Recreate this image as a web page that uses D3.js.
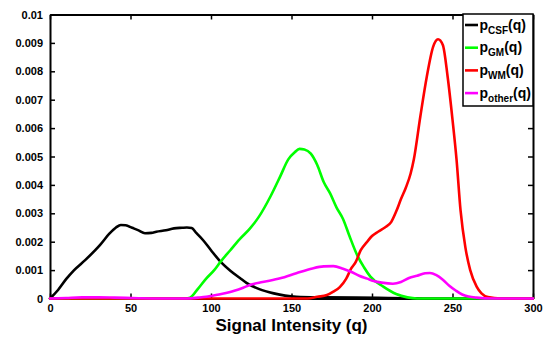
<!DOCTYPE html>
<html>
<head>
<meta charset="utf-8">
<script src="https://cdn.jsdelivr.net/npm/d3@7"></script>
<style>
  html, body { margin: 0; padding: 0; background: #fff; }
  svg { display: block; font-family: "Liberation Sans", Arial, Helvetica, sans-serif; font-weight: bold; }
</style>
</head>
<body>
<svg id="chart" width="557" height="337"></svg>
<script>
// ---- data ----
const xTicks = [0, 50, 100, 150, 200, 250, 300];
const yTicks = [0, 0.001, 0.002, 0.003, 0.004, 0.005, 0.006, 0.007, 0.008, 0.009, 0.01];
const yTickLabels = ["0", "0.001", "0.002", "0.003", "0.004", "0.005", "0.006", "0.007", "0.008", "0.009", "0.01"];
const xLabel = "Signal Intensity (q)";

const csfQ = [0, 5, 10, 15, 22, 31, 37, 41, 44, 47, 51, 55, 59, 63, 66, 72, 77, 82, 85, 88, 91, 95, 100, 106, 112, 118, 122, 130, 139, 146, 153, 170, 190, 210, 222, 232, 300];
const csfV = [0, 0.0003, 0.00068, 0.001, 0.00136, 0.00188, 0.00229, 0.0025, 0.00259, 0.00258, 0.00249, 0.0024, 0.0023, 0.00231, 0.00235, 0.0024, 0.00247, 0.00249, 0.0025, 0.00248, 0.0023, 0.00206, 0.0017, 0.00129, 0.00098, 0.00072, 0.00055, 0.00033, 0.00018, 0.0001, 0.00006, 0.00004, 0.00003, 0.00002, 0.00001, 0, 0];

const gmQ = [0, 84, 87, 92, 97, 102, 106, 112, 118, 124, 130, 137, 143, 148, 152, 155, 158, 162, 166, 170, 174, 178, 182, 186, 191, 195, 199, 207, 215, 222, 228, 300];
const gmV = [0, 0, 0.00003, 0.00035, 0.0007, 0.001, 0.0013, 0.0017, 0.0021, 0.00245, 0.0029, 0.0036, 0.0043, 0.0049, 0.00515, 0.00527, 0.00525, 0.0051, 0.0047, 0.0041, 0.0037, 0.0032, 0.0028, 0.0022, 0.0015, 0.0011, 0.00077, 0.00042, 0.00016, 0.00004, 0, 0];

const wmQ = [0, 160, 166, 172, 176, 180, 184, 187, 190, 193, 197, 200, 204, 208, 212, 215, 218, 221, 224, 226, 230, 234, 238, 241, 244, 247, 250, 252.5, 255, 258, 261, 265, 268, 272, 280, 300];
const wmV = [0, 0, 0.00006, 0.00012, 0.00024, 0.0004, 0.0007, 0.00105, 0.0013, 0.0017, 0.002, 0.0022, 0.00236, 0.0025, 0.0027, 0.00306, 0.0035, 0.0039, 0.0044, 0.0049, 0.0064, 0.0078, 0.00887, 0.00913, 0.00893, 0.0078, 0.0063, 0.0049, 0.0031, 0.0018, 0.001, 0.00042, 0.00018, 0.00005, 0, 0];

const otherQ = [0, 10, 20, 30, 40, 55, 70, 85, 92, 97, 101, 105, 110, 115, 120, 125, 132, 143, 153, 163, 170, 176, 182, 187, 192, 197, 201, 206, 213, 218, 223, 228, 233, 236, 240, 244, 248, 252, 256, 260, 265, 275, 300];
const otherV = [0, 0.00002, 0.00004, 0.00004, 0.00003, 0.00001, 0, 0, 0.00003, 0.00006, 0.0001, 0.00014, 0.0002, 0.00028, 0.00038, 0.00049, 0.00058, 0.00071, 0.00089, 0.00106, 0.00113, 0.00114, 0.00105, 0.00094, 0.0008, 0.0007, 0.00062, 0.00056, 0.00052, 0.00058, 0.00072, 0.0008, 0.00089, 0.0009, 0.00082, 0.00066, 0.00045, 0.00028, 0.00014, 0.00007, 0.00003, 0, 0];

const seriesNames = ["CSF", "GM", "WM", "other"];
const seriesColors = ["#000000", "#00ff00", "#ff0000", "#ff00ff"];

// ---- layout ----
const svg = d3.select("#chart");
const pLeft = 50, pRight = 533, pTop = 14.5, pBottom = 298.5;
const x = d3.scaleLinear().domain([0, 300]).range([pLeft, pRight]);
const y = d3.scaleLinear().domain([0, 0.01]).range([pBottom, pTop]);

const tickLen = 5;
const g = svg.append("g");
const styleAxis = s => {
  s.select(".domain").attr("stroke-width", 2).attr("stroke", "#000");
  s.selectAll(".tick line").attr("stroke-width", 1.5).attr("stroke", "#000");
  s.selectAll("text").attr("font-size", 11).attr("font-weight", "bold")
    .attr("font-family", "Liberation Sans, Arial, sans-serif").attr("fill", "#000");
};

// bottom axis (ticks inward)
g.append("g").attr("transform", `translate(0,${pBottom})`)
  .call(d3.axisBottom(x).tickValues(xTicks).tickSizeInner(-tickLen).tickSizeOuter(0).tickPadding(6).tickFormat(d3.format("d")))
  .call(styleAxis);
// top axis
g.append("g").attr("transform", `translate(0,${pTop})`)
  .call(d3.axisTop(x).tickValues(xTicks).tickSizeInner(-tickLen).tickSizeOuter(0).tickFormat(""))
  .call(styleAxis);
// left axis
g.append("g").attr("transform", `translate(${pLeft},0)`)
  .call(d3.axisLeft(y).tickValues(yTicks).tickSizeInner(-tickLen).tickSizeOuter(0).tickPadding(7).tickFormat((d, i) => yTickLabels[i]))
  .call(styleAxis);
// right axis
g.append("g").attr("transform", `translate(${pRight},0)`)
  .call(d3.axisRight(y).tickValues(yTicks).tickSizeInner(-tickLen).tickSizeOuter(0).tickFormat(""))
  .call(styleAxis);

// curves
const seriesData = [
  d3.zip(csfQ, csfV),
  d3.zip(gmQ, gmV),
  d3.zip(wmQ, wmV),
  d3.zip(otherQ, otherV)
];
const line = d3.line().x(d => x(d[0])).y(d => y(d[1])).curve(d3.curveMonotoneX);
seriesData.forEach((data, i) => {
  svg.append("path").datum(data).attr("d", line)
    .attr("fill", "none").attr("stroke", seriesColors[i]).attr("stroke-width", 2.6)
    .attr("stroke-linejoin", "round").attr("stroke-linecap", "round");
});

// x label
svg.append("text").attr("x", (pLeft + pRight) / 2).attr("y", 331).attr("text-anchor", "middle")
  .attr("font-size", 17).attr("font-weight", "bold").attr("fill", "#000").text(xLabel);

// legend
const lg = svg.append("g");
const lx0 = 463, lx1 = 533, ly0 = 14, ly1 = 106;
lg.append("rect").attr("x", lx0).attr("y", ly0).attr("width", lx1 - lx0).attr("height", ly1 - ly0)
  .attr("fill", "#fff").attr("stroke", "#000").attr("stroke-width", 1.5);
const rowY = [25, 47.7, 70.4, 93.1];
seriesNames.forEach((name, i) => {
  lg.append("line").attr("x1", 465).attr("x2", 478).attr("y1", rowY[i]).attr("y2", rowY[i])
    .attr("stroke", seriesColors[i]).attr("stroke-width", 2.6);
  const t = lg.append("text").attr("x", 479.5).attr("y", rowY[i] + 4.5).attr("font-size", 14).attr("font-weight", "bold").attr("fill", "#000");
  t.append("tspan").text("p");
  t.append("tspan").attr("dy", 4).attr("font-size", 10).text(name);
  t.append("tspan").attr("dy", -4).text("(q)");
});
</script>
</body>
</html>
